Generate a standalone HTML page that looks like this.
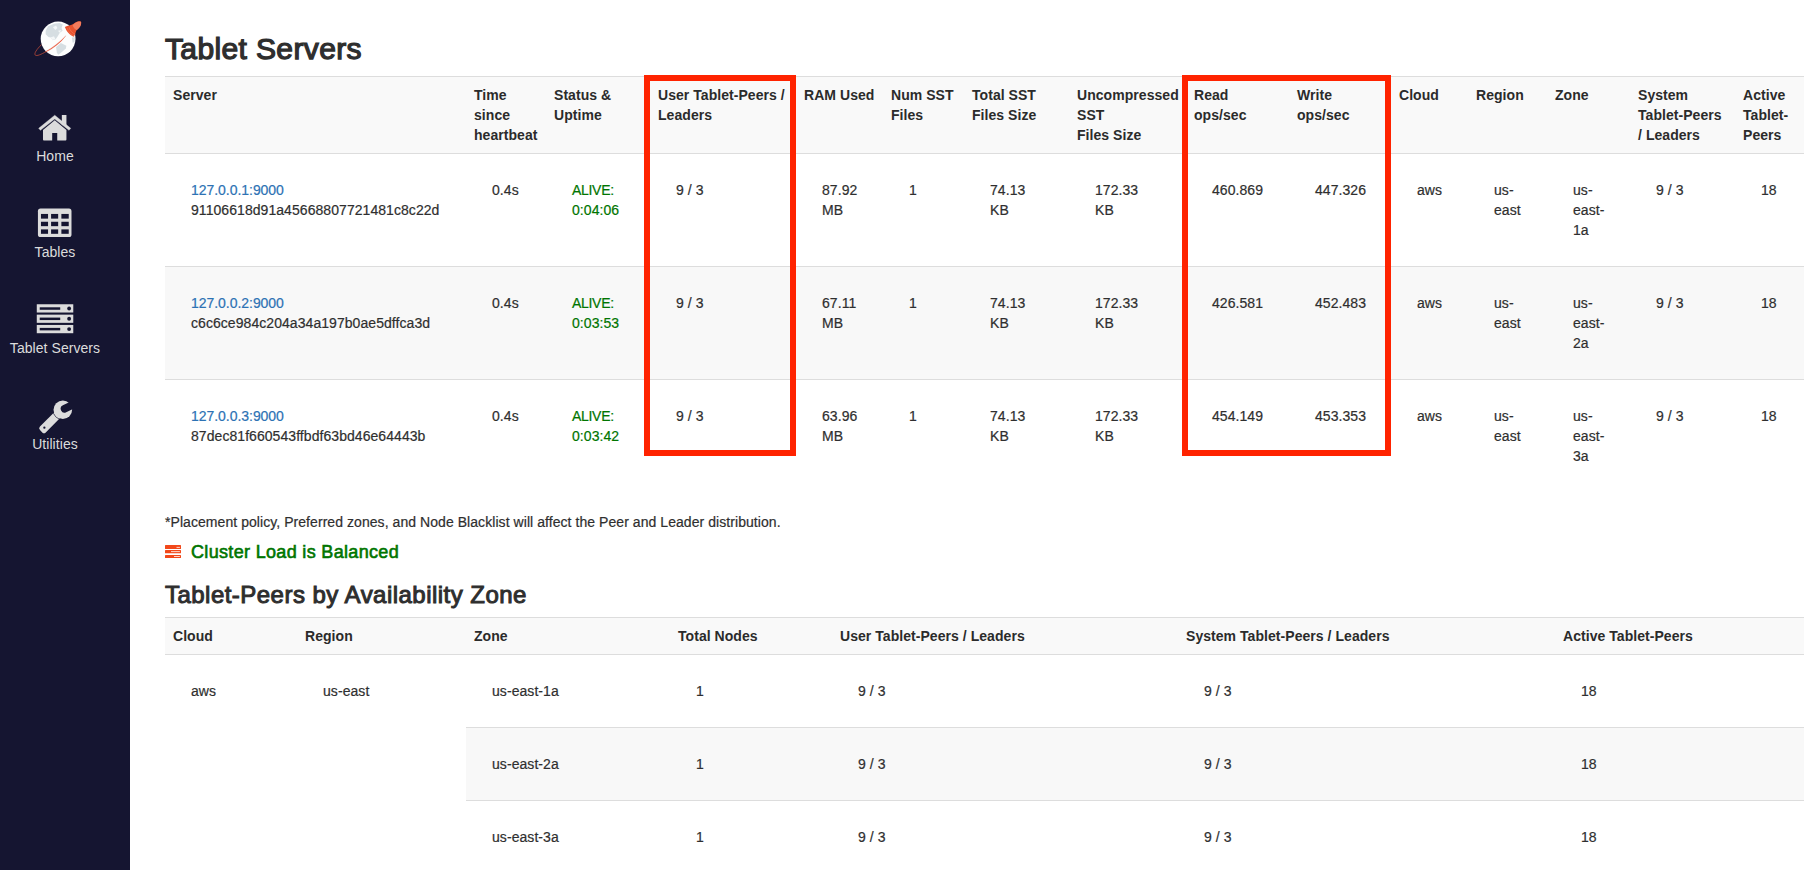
<!DOCTYPE html>
<html>
<head>
<meta charset="utf-8">
<title>Tablet Servers</title>
<style>
*{box-sizing:border-box;}
html,body{margin:0;padding:0;}
body{width:1809px;height:870px;overflow:hidden;background:#fff;font-family:"Liberation Sans","Helvetica Neue",Helvetica,Arial,sans-serif;font-size:14px;line-height:20px;color:#2f2f2f;position:relative;letter-spacing:0.06px;}
#side{position:absolute;left:0;top:0;width:130px;height:870px;background:#151531;}
#side .item{position:absolute;left:0;width:110px;text-align:center;color:#dcdcdc;font-size:14px;line-height:20px;}
#side svg{position:absolute;}
#main{position:absolute;left:165px;top:0;width:1639px;}
h1{position:absolute;left:0;top:32.4px;margin:0;font-size:30px;line-height:33px;font-weight:400;color:#2e2e2e;-webkit-text-stroke:1.25px #2e2e2e;letter-spacing:0.37px;white-space:nowrap;}
h3{position:absolute;left:0;top:581px;margin:0;font-size:24px;line-height:27px;font-weight:400;color:#2e2e2e;-webkit-text-stroke:1px #2e2e2e;letter-spacing:0.47px;white-space:nowrap;}
table{border-collapse:collapse;border-spacing:0;table-layout:fixed;width:1639px;position:absolute;left:0;}
th{text-align:left;font-weight:bold;padding:8px;vertical-align:top;border-top:1px solid #ddd;border-bottom:1px solid #ddd;background:#f9f9f9;color:#2b2b2b;letter-spacing:0.05px;white-space:nowrap;}
td{white-space:nowrap;padding:26px;vertical-align:top;border-top:1px solid #ddd;-webkit-text-stroke:0.2px;}
tr.s td{background:#f8f8f8;}
a{color:#2d72b4;text-decoration:none;letter-spacing:-0.04px;}
.al{letter-spacing:-0.3px;}
.g{color:#007500;}
#t1{top:76px;}
#t2{top:617px;}
#note{position:absolute;left:0;top:512px;white-space:nowrap;-webkit-text-stroke:0.2px;}
#bal{position:absolute;left:26px;top:541px;font-size:18px;line-height:22px;color:#007500;white-space:nowrap;-webkit-text-stroke:0.6px #007500;letter-spacing:0.33px;}
.box{position:absolute;border:6px solid #ff2300;}
</style>
</head>
<body>
<div id="side">

  <svg viewBox="0 0 1015 870" width="70" height="60" style="left:25px;top:10px">
    <path d="M238 503 C165 575 128 632 150 655 C168 672 235 645 305 603" fill="none" stroke="#e8573a" stroke-width="9" stroke-linecap="round"/>
    <circle cx="480" cy="420" r="252" fill="#fcfdfd"/>
    <path d="M300 300 L335 235 L420 200 L500 188 L548 212 L530 262 L545 300 L505 330 L475 380 L445 425 L400 440 L372 400 L340 390 L300 350 Z" fill="#d6dee2"/>
    <path d="M405 250 L450 225 L470 260 L440 290 Z M480 300 L530 290 L500 330 Z M370 400 L420 380 L440 420 L400 435 Z" fill="#f4f7f8"/>
    <path d="M450 540 L520 480 L600 520 L592 560 L535 610 L482 650 L462 620 Z" fill="#d6dee2"/>
    <path d="M680 400 L722 395 L718 470 L690 472 Z" fill="#d6dee2"/>
    <path d="M298 602 C400 545 500 468 594 372 C515 478 410 558 304 610 Z" fill="#e8573a" stroke="#e8573a" stroke-width="3" stroke-linejoin="round"/>
    <path d="M578 248 C620 225 670 225 705 200 C740 165 790 155 812 172 C822 215 790 260 748 290 C735 320 725 360 705 388 C655 372 600 310 578 248 Z" fill="#e9532f"/>
    <path d="M690 222 C730 170 785 155 812 172 C822 215 795 262 750 292 C722 280 700 255 690 222 Z" fill="#f47b5c"/>
    <path d="M640 250 C650 300 690 340 735 352" fill="none" stroke="#f47b5c" stroke-width="9"/>
    <path d="M612 262 C628 318 668 362 718 378" fill="none" stroke="#f47b5c" stroke-width="7"/>
  </svg>
  <svg viewBox="0 0 870 870" width="80" height="80" style="left:20px;top:100px" fill="#dcdcdc">
    <path d="M203 308 L378 165 L552 308 L533 330 L378 207 L222 330 Z" stroke="#dcdcdc" stroke-width="4" stroke-linejoin="round"/>
    <rect x="455" y="163" width="50" height="110"/>
    <path d="M250 325 L378 220 L505 325 L505 430 Q505 440 495 440 L405 440 L405 360 L350 360 L350 440 L260 440 Q250 440 250 430 Z"/>
  </svg>
  <svg viewBox="0 0 870 870" width="80" height="80" style="left:20px;top:195px">
    <rect x="195" y="148" width="365" height="310" rx="28" fill="#dcdcdc"/>
    <g fill="#151531">
      <rect x="228" y="206" width="77" height="51"/><rect x="338" y="206" width="77" height="51"/><rect x="450" y="206" width="80" height="51"/>
      <rect x="228" y="291" width="77" height="48"/><rect x="338" y="291" width="77" height="48"/><rect x="450" y="291" width="80" height="48"/>
      <rect x="228" y="374" width="77" height="48"/><rect x="338" y="374" width="77" height="48"/><rect x="450" y="374" width="80" height="48"/>
    </g>
  </svg>
  <svg viewBox="0 0 1414 870" width="130" height="80" style="left:0px;top:290px">
    <g fill="#dcdcdc"><rect x="400" y="155" width="397" height="90"/><rect x="400" y="268" width="397" height="89"/><rect x="400" y="380" width="397" height="90"/></g>
    <g fill="#151531">
      <rect x="432" y="188" width="223" height="27"/><circle cx="752" cy="201" r="21"/>
      <rect x="432" y="300" width="223" height="27"/><circle cx="752" cy="313" r="21"/>
      <rect x="432" y="412" width="223" height="27"/><circle cx="752" cy="425" r="21"/>
    </g>
  </svg>
  <svg viewBox="0 0 967 870" width="50" height="45" style="left:30px;top:395px">
    <mask id="wm"><rect x="0" y="0" width="967" height="870" fill="#fff"/><path d="M668 266 L905 151" stroke="#000" stroke-width="148" stroke-linecap="round" fill="none"/></mask>
    <mask id="wh"><rect x="0" y="0" width="967" height="870" fill="#fff"/><circle cx="635" cy="285" r="193" fill="none" stroke="#000" stroke-width="14"/><circle cx="278" cy="632" r="22" fill="#000"/></mask>
    <g mask="url(#wh)"><rect x="0" y="-79" width="480" height="158" rx="48" fill="#dcdcdc" transform="translate(215,701) rotate(-45)"/></g>
    <g mask="url(#wm)"><circle cx="635" cy="285" r="180" fill="#dcdcdc"/></g>
  </svg>
  <div class="item" style="top:146px">Home</div>
  <div class="item" style="top:242px">Tables</div>
  <div class="item" style="top:338px">Tablet Servers</div>
  <div class="item" style="top:434px">Utilities</div>
</div>
<div id="main">
<h1>Tablet Servers</h1>
<table id="t1">
<colgroup><col style="width:301px"><col style="width:80px"><col style="width:104px"><col style="width:146px"><col style="width:87px"><col style="width:81px"><col style="width:105px"><col style="width:117px"><col style="width:103px"><col style="width:102px"><col style="width:77px"><col style="width:79px"><col style="width:83px"><col style="width:105px"><col style="width:69px"></colgroup>
<thead><tr>
<th>Server</th><th>Time<br>since<br>heartbeat</th><th>Status &amp;<br>Uptime</th><th>User Tablet-Peers /<br>Leaders</th><th>RAM Used</th><th>Num SST<br>Files</th><th>Total SST<br>Files Size</th><th>Uncompressed<br>SST<br>Files Size</th><th>Read<br>ops/sec</th><th>Write<br>ops/sec</th><th>Cloud</th><th>Region</th><th>Zone</th><th>System<br>Tablet-Peers<br>/ Leaders</th><th>Active<br>Tablet-<br>Peers</th>
</tr></thead>
<tbody>
<tr><td><a>127.0.0.1:9000</a><br>91106618d91a45668807721481c8c22d</td><td>0.4s</td><td class="g"><span class="al">ALIVE:</span><br>0:04:06</td><td>9 / 3</td><td>87.92<br>MB</td><td>1</td><td>74.13<br>KB</td><td>172.33<br>KB</td><td>460.869</td><td>447.326</td><td>aws</td><td>us-<br>east</td><td>us-<br>east-<br>1a</td><td>9 / 3</td><td>18</td></tr>
<tr class="s"><td><a>127.0.0.2:9000</a><br>c6c6ce984c204a34a197b0ae5dffca3d</td><td>0.4s</td><td class="g"><span class="al">ALIVE:</span><br>0:03:53</td><td>9 / 3</td><td>67.11<br>MB</td><td>1</td><td>74.13<br>KB</td><td>172.33<br>KB</td><td>426.581</td><td>452.483</td><td>aws</td><td>us-<br>east</td><td>us-<br>east-<br>2a</td><td>9 / 3</td><td>18</td></tr>
<tr><td><a>127.0.0.3:9000</a><br>87dec81f660543ffbdf63bd46e64443b</td><td>0.4s</td><td class="g"><span class="al">ALIVE:</span><br>0:03:42</td><td>9 / 3</td><td>63.96<br>MB</td><td>1</td><td>74.13<br>KB</td><td>172.33<br>KB</td><td>454.149</td><td>453.353</td><td>aws</td><td>us-<br>east</td><td>us-<br>east-<br>3a</td><td>9 / 3</td><td>18</td></tr>
</tbody>
</table>
<div class="box" style="left:479px;top:75px;width:152px;height:381px"></div>
<div class="box" style="left:1017px;top:75px;width:209px;height:381px"></div>
<div id="note">*Placement policy, Preferred zones, and Node Blacklist will affect the Peer and Leader distribution.</div>
<svg viewBox="0 0 16 13" width="16" height="13" style="position:absolute;left:0;top:545px">
<g fill="#f2481a"><rect x="0" y="0.1" width="16" height="3.8" rx="0.5"/><rect x="0" y="5.1" width="16" height="3.1" rx="0.5"/><rect x="0" y="9.9" width="16" height="3" rx="0.5"/></g>
<g fill="#fde6df"><rect x="11.5" y="1.9" width="3.4" height="0.9"/><rect x="6" y="6.2" width="8.9" height="0.9"/><rect x="9" y="11" width="5.9" height="0.9"/></g>
</svg>
<div id="bal">Cluster Load is Balanced</div>
<h3>Tablet-Peers by Availability Zone</h3>
<table id="t2">
<colgroup><col style="width:132px"><col style="width:169px"><col style="width:204px"><col style="width:162px"><col style="width:346px"><col style="width:377px"><col style="width:249px"></colgroup>
<thead><tr><th>Cloud</th><th>Region</th><th>Zone</th><th>Total Nodes</th><th>User Tablet-Peers / Leaders</th><th>System Tablet-Peers / Leaders</th><th>Active Tablet-Peers</th></tr></thead>
<tbody>
<tr><td rowspan="3">aws</td><td rowspan="3">us-east</td><td>us-east-1a</td><td>1</td><td>9 / 3</td><td>9 / 3</td><td>18</td></tr>
<tr class="s"><td>us-east-2a</td><td>1</td><td>9 / 3</td><td>9 / 3</td><td>18</td></tr>
<tr><td>us-east-3a</td><td>1</td><td>9 / 3</td><td>9 / 3</td><td>18</td></tr>
</tbody>
</table>
</div>
</body>
</html>
